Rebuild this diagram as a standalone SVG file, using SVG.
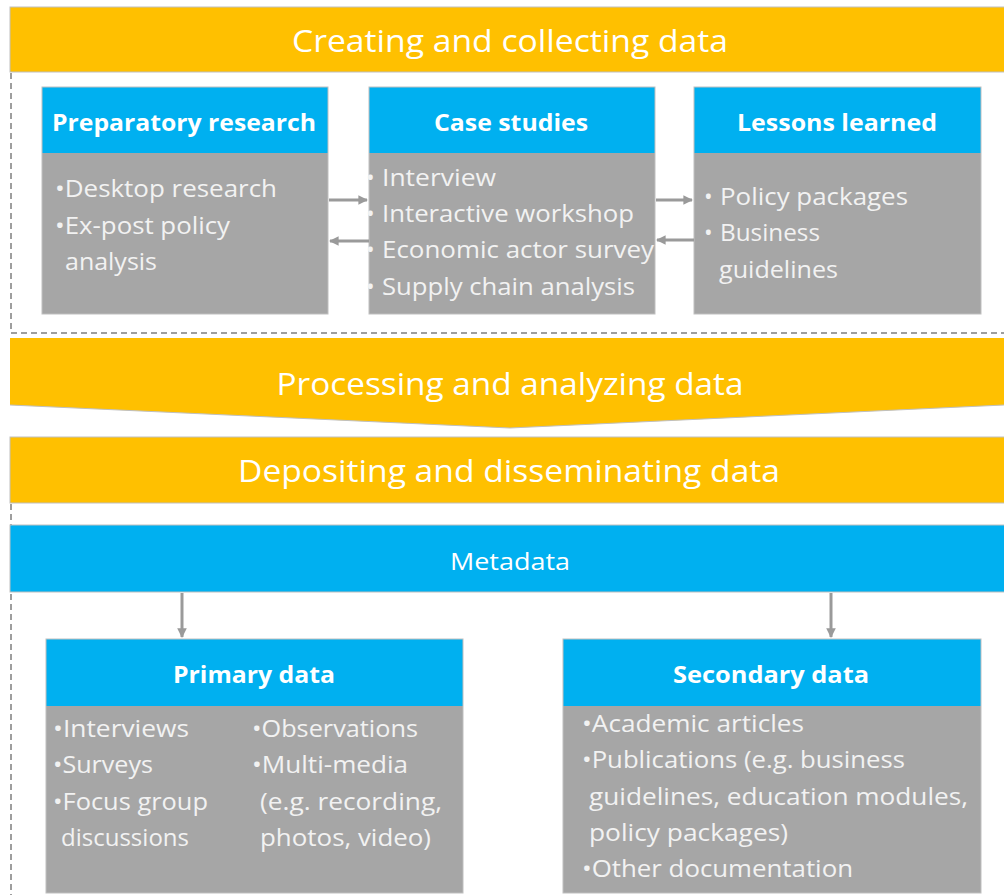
<svg xmlns="http://www.w3.org/2000/svg" width="1004" height="895" viewBox="0 0 1004 895">
  <style>
    .band { fill: #FFC000; stroke: #BFBFBF; stroke-width: 1; }
    .bandText { font-family: "Open Sans", "Liberation Sans", sans-serif; font-size: 31px; fill: #FFFFFF; text-anchor: middle; }
    .head { fill: #00B0F0; }
    .body { fill: #A6A6A6; }
    .frame { fill: none; stroke: #BFBFBF; stroke-width: 1; }
    .headText { font-family: "Open Sans", "Liberation Sans", sans-serif; font-weight: bold; font-size: 24px; fill: #FFFFFF; }
    .item { font-family: "Open Sans", "Liberation Sans", sans-serif; font-size: 23px; fill: #F2F2F2; }
    .dash { fill: none; stroke: #7F7F7F; stroke-width: 1.5; stroke-dasharray: 6 4; }
    .conn { fill: none; stroke: #9A9A9A; stroke-width: 3; }
  </style>
  <defs>
    <marker id="arr" viewBox="0 0 10 10" refX="9" refY="5" markerWidth="3.2" markerHeight="3.2" orient="auto">
      <path d="M0,0 L10,5 L0,10 Z" fill="#9A9A9A"/>
    </marker>
  </defs>

  <rect width="1004" height="895" fill="#FFFFFF"/>

  <!-- stage 1 -->
  <g id="stage-create">
    <rect class="band" x="10" y="7" width="1000" height="65"/>
    <text class="bandText" x="510" y="52" textLength="436" lengthAdjust="spacingAndGlyphs">Creating and collecting data</text>
  </g>
  <path class="dash" d="M11,73 V333 H1004"/>

  <g id="preparatory-research">
    <rect class="head" x="42" y="87" width="286" height="66"/>
    <rect class="body" x="42" y="153" width="286" height="161"/>
    <rect class="frame" x="42" y="87" width="286" height="227"/>
    <text class="headText" x="52" y="131" textLength="264" lengthAdjust="spacingAndGlyphs">Preparatory research</text>
    <text class="item" x="55" y="197" textLength="222" lengthAdjust="spacingAndGlyphs">•Desktop research</text>
    <text class="item" x="55" y="234" textLength="175" lengthAdjust="spacingAndGlyphs">•Ex-post policy</text>
    <text class="item" x="65" y="270" textLength="92" lengthAdjust="spacingAndGlyphs">analysis</text>
  </g>

  <g id="case-studies">
    <rect class="head" x="369" y="87" width="286" height="66"/>
    <rect class="body" x="369" y="153" width="286" height="161"/>
    <rect class="frame" x="369" y="87" width="286" height="227"/>
    <text class="headText" x="434" y="131" textLength="154" lengthAdjust="spacingAndGlyphs">Case studies</text>
    <text class="item" x="366" y="186">•</text>
    <text class="item" x="382" y="186" textLength="114" lengthAdjust="spacingAndGlyphs">Interview</text>
    <text class="item" x="366" y="222">•</text>
    <text class="item" x="382" y="222" textLength="252" lengthAdjust="spacingAndGlyphs">Interactive workshop</text>
    <text class="item" x="366" y="258">•</text>
    <text class="item" x="382" y="258" textLength="272" lengthAdjust="spacingAndGlyphs">Economic actor survey</text>
    <text class="item" x="366" y="295">•</text>
    <text class="item" x="382" y="295" textLength="253" lengthAdjust="spacingAndGlyphs">Supply chain analysis</text>
  </g>

  <g id="lessons-learned">
    <rect class="head" x="694" y="87" width="287" height="66"/>
    <rect class="body" x="694" y="153" width="287" height="161"/>
    <rect class="frame" x="694" y="87" width="287" height="227"/>
    <text class="headText" x="737" y="131" textLength="200" lengthAdjust="spacingAndGlyphs">Lessons learned</text>
    <text class="item" x="704" y="205">•</text>
    <text class="item" x="720" y="205" textLength="188" lengthAdjust="spacingAndGlyphs">Policy packages</text>
    <text class="item" x="704" y="241">•</text>
    <text class="item" x="720" y="241" textLength="100" lengthAdjust="spacingAndGlyphs">Business</text>
    <text class="item" x="719" y="278" textLength="119" lengthAdjust="spacingAndGlyphs">guidelines</text>
  </g>

  <!-- stage 2 -->
  <g id="stage-process">
    <path d="M10,338 H1004 V405 L510,428 L10,405 Z" fill="#FFC000"/>
    <path d="M10,405 L510,428 L1004,405" fill="none" stroke="#BFBFBF" stroke-width="1"/>
    <text class="bandText" x="510" y="395" textLength="467" lengthAdjust="spacingAndGlyphs">Processing and analyzing data</text>
  </g>

  <!-- stage 3 -->
  <g id="stage-deposit">
    <rect class="band" x="10" y="437" width="1000" height="66"/>
    <text class="bandText" x="509" y="482" textLength="542" lengthAdjust="spacingAndGlyphs">Depositing and disseminating data</text>
  </g>
  <path class="dash" d="M11,504 V895"/>

  <g id="metadata">
    <rect x="10" y="525" width="1000" height="67" fill="#00B0F0" stroke="#BFBFBF" stroke-width="1"/>
    <text class="bandText" x="510" y="570" style="font-size:24px" textLength="120" lengthAdjust="spacingAndGlyphs">Metadata</text>
  </g>

  <g id="primary-data">
    <rect class="head" x="46" y="639" width="417" height="67"/>
    <rect class="body" x="46" y="706" width="417" height="187"/>
    <rect class="frame" x="46" y="639" width="417" height="254"/>
    <text class="headText" x="173" y="683" textLength="162" lengthAdjust="spacingAndGlyphs">Primary data</text>
    <text class="item" x="53" y="737" textLength="136" lengthAdjust="spacingAndGlyphs">•Interviews</text>
    <text class="item" x="53" y="773" textLength="100" lengthAdjust="spacingAndGlyphs">•Surveys</text>
    <text class="item" x="53" y="810" textLength="155" lengthAdjust="spacingAndGlyphs">•Focus group</text>
    <text class="item" x="61" y="846" textLength="128" lengthAdjust="spacingAndGlyphs">discussions</text>
    <text class="item" x="252" y="737" textLength="166" lengthAdjust="spacingAndGlyphs">•Observations</text>
    <text class="item" x="252" y="773" textLength="156" lengthAdjust="spacingAndGlyphs">•Multi-media</text>
    <text class="item" x="260" y="810" textLength="182" lengthAdjust="spacingAndGlyphs">(e.g. recording,</text>
    <text class="item" x="260" y="846" textLength="171" lengthAdjust="spacingAndGlyphs">photos, video)</text>
  </g>

  <g id="secondary-data">
    <rect class="head" x="563" y="639" width="418" height="67"/>
    <rect class="body" x="563" y="706" width="418" height="187"/>
    <rect class="frame" x="563" y="639" width="418" height="254"/>
    <text class="headText" x="673" y="683" textLength="196" lengthAdjust="spacingAndGlyphs">Secondary data</text>
    <text class="item" x="582" y="732" textLength="222" lengthAdjust="spacingAndGlyphs">•Academic articles</text>
    <text class="item" x="582" y="768" textLength="323" lengthAdjust="spacingAndGlyphs">•Publications (e.g. business</text>
    <text class="item" x="589" y="805" textLength="379" lengthAdjust="spacingAndGlyphs">guidelines, education modules,</text>
    <text class="item" x="589" y="841" textLength="199" lengthAdjust="spacingAndGlyphs">policy packages)</text>
    <text class="item" x="582" y="877" textLength="271" lengthAdjust="spacingAndGlyphs">•Other documentation</text>
  </g>

  <g id="connectors">
    <line class="conn" x1="329" y1="200" x2="367" y2="200" marker-end="url(#arr)"/>
    <line class="conn" x1="369" y1="241" x2="330" y2="241" marker-end="url(#arr)"/>
    <line class="conn" x1="656" y1="200" x2="692" y2="200" marker-end="url(#arr)"/>
    <line class="conn" x1="694" y1="240" x2="657" y2="240" marker-end="url(#arr)"/>
    <line class="conn" x1="182" y1="593" x2="182" y2="637" marker-end="url(#arr)"/>
    <line class="conn" x1="831" y1="593" x2="831" y2="637" marker-end="url(#arr)"/>
  </g>
</svg>
